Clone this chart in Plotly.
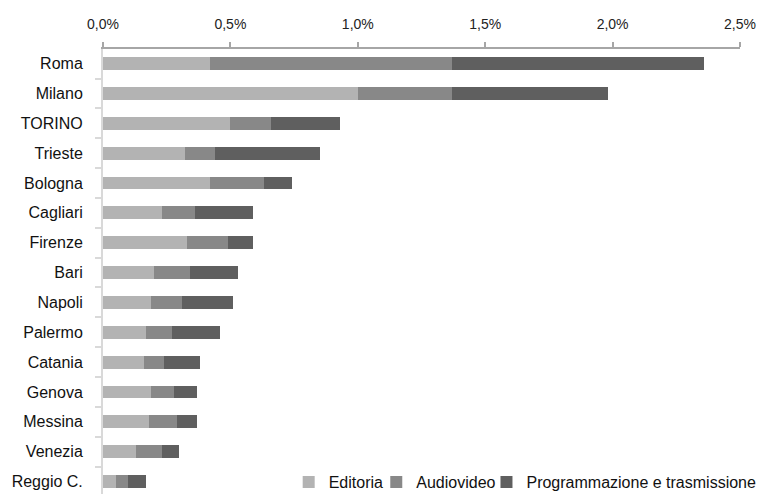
import plotly.graph_objects as go

cities = ["Roma", "Milano", "TORINO", "Trieste", "Bologna", "Cagliari", "Firenze", "Bari",
          "Napoli", "Palermo", "Catania", "Genova", "Messina", "Venezia", "Reggio C."]
editoria = [0.42, 1.00, 0.50, 0.32, 0.42, 0.23, 0.33, 0.20, 0.19, 0.17, 0.16, 0.19, 0.18, 0.13, 0.05]
audiovideo = [0.95, 0.37, 0.16, 0.12, 0.21, 0.13, 0.16, 0.14, 0.12, 0.10, 0.08, 0.09, 0.11, 0.10, 0.05]
programmazione = [0.99, 0.61, 0.27, 0.41, 0.11, 0.23, 0.10, 0.19, 0.20, 0.19, 0.14, 0.09, 0.08, 0.07, 0.07]

series = [
    ("Editoria", editoria, "#b3b3b3", "legend", 0.2915),
    ("Audiovideo", audiovideo, "#888888", "legend2", 0.429),
    ("Programmazione e trasmissione", programmazione, "#5f5f5f", "legend3", 0.602),
]

fig = go.Figure()
for name, vals, color, leg, _ in series:
    fig.add_trace(go.Bar(
        y=cities, x=vals, name=name, orientation="h",
        marker=dict(color=color, line=dict(width=0)),
        legend=leg,
    ))

legend_common = dict(
    orientation="h", xanchor="left", y=0.027, yanchor="middle",
    font=dict(size=16, color="#111111"), bgcolor="rgba(0,0,0,0)",
    itemwidth=30,
)
legends = {}
for name, vals, color, leg, lx in series:
    legends[leg] = dict(legend_common, x=lx)

fig.update_layout(
    barmode="stack",
    bargap=0.57,
    width=758, height=494,
    margin=dict(l=103, r=18, t=49, b=0, autoexpand=False),
    paper_bgcolor="white", plot_bgcolor="white",
    separators=",.",
    font=dict(family="Liberation Sans, Arial, sans-serif", size=16, color="#111111"),
    showlegend=True,
    **legends,
)
fig.update_xaxes(
    side="top", range=[0, 2.5], dtick=0.5, tickformat=".1f", ticksuffix="%",
    showgrid=False, zeroline=False, automargin=False,
    showline=True, linecolor="#a6a6a6", linewidth=2,
    ticks="outside", ticklen=5, tickwidth=2, tickcolor="#a6a6a6",
    tickfont=dict(size=14, color="#222222"), ticklabelstandoff=7,
)
fig.update_yaxes(
    type="category", categoryorder="array", categoryarray=cities,
    range=[14.42, -0.49], automargin=False,
    showgrid=False, zeroline=False,
    showline=True, linecolor="#d9d9d9", linewidth=2,
    ticks="outside", ticklen=6, tickwidth=2, tickcolor="#d9d9d9", tickson="boundaries",
    tickfont=dict(size=16, color="#111111"), ticklabelstandoff=15,
)

fig.write_html("out.html", config={"displayModeBar": False},
               post_script="document.body.style.margin='0';")
